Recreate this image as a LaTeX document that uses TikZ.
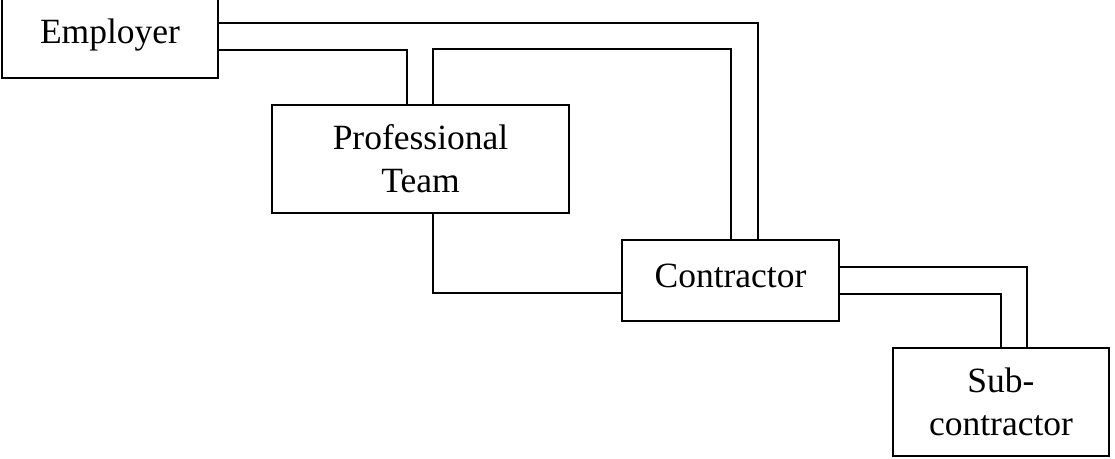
\documentclass[tikz,border=0pt]{standalone}
\usepackage{fontspec}
\setmainfont{Liberation Serif}
\begin{document}
\begin{tikzpicture}[x=1pt,y=-1pt,
  box/.style={draw,line width=1.8pt,inner sep=0pt,align=center,font=\fontsize{35.5}{43}\selectfont},
  link/.style={draw,line width=1.8pt}]
\useasboundingbox (0,0) rectangle (1115,458);
\clip (0,0) rectangle (1115,458);
\node[box,minimum width=216pt,minimum height=86pt] (emp) at (110,35) {Employer};
\node[box,minimum width=297pt,minimum height=108pt] (prof) at (420.5,159) {Professional\\Team};
\node[box,minimum width=217pt,minimum height=81pt,text depth=10pt] (con) at (730.5,280.5) {Contractor};
\node[box,minimum width=216pt,minimum height=108pt] (sub) at (1001,402) {Sub-\\contractor};
\draw[link] ([yshift=12pt]emp.east) -| ([xshift=27.5pt]con.north);
\draw[link] ([yshift=-15pt]emp.east) -| ([xshift=-13.5pt]prof.north);
\draw[link] ([xshift=12.5pt]prof.north) -- ++(0pt,55pt) -| ([xshift=0.5pt]con.north);
\draw[link] ([xshift=12.5pt]prof.south) |- ([yshift=-12.5pt]con.west);
\draw[link] ([yshift=13.5pt]con.east) -| ([xshift=26pt]sub.north);
\draw[link] ([yshift=-13.5pt]con.east) -| (sub.north);
\end{tikzpicture}
\end{document}
